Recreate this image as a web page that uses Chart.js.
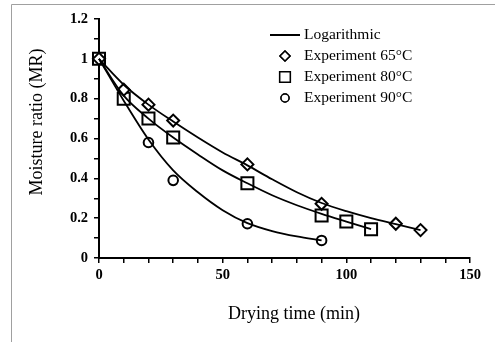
<!DOCTYPE html>
<html>
<head>
<meta charset="utf-8">
<script src="https://cdn.jsdelivr.net/npm/chart.js@4.4.1/dist/chart.umd.min.js"></script>
<style>
  html, body { margin: 0; padding: 0; background: #fff; }
  #wrap { width: 495px; height: 342px; position: relative; }
</style>
</head>
<body>
<div id="wrap"><canvas id="chart" width="495" height="342"></canvas></div>
<script>
// Measured points
const time65 = [0, 10, 20, 30, 60, 90, 120, 130];
const mr65 = [1, 0.845, 0.77, 0.69, 0.47, 0.272, 0.172, 0.14];
const time80 = [0, 10, 20, 30, 60, 90, 100, 110];
const mr80 = [1, 0.80, 0.70, 0.605, 0.375, 0.213, 0.183, 0.144];
const time90 = [0, 10, 20, 30, 60, 90];
const mr90 = [1, 0.80, 0.58, 0.39, 0.172, 0.088];

// Logarithmic model curves
const fitTime65 = [0, 10, 20, 30, 40, 50, 60, 70, 80, 90, 100, 110, 120, 130];
const fitMr65 = [1, 0.87, 0.77, 0.685, 0.605, 0.53, 0.465, 0.395, 0.33, 0.276, 0.235, 0.2, 0.17, 0.14];
const fitTime80 = [0, 10, 20, 30, 40, 50, 60, 70, 80, 90, 100, 110];
const fitMr80 = [1, 0.815, 0.7, 0.605, 0.52, 0.44, 0.375, 0.315, 0.265, 0.222, 0.183, 0.145];
const fitTime90 = [0, 10, 20, 30, 40, 50, 60, 70, 80, 90];
const fitMr90 = [1, 0.79, 0.595, 0.44, 0.33, 0.24, 0.175, 0.135, 0.108, 0.088];

const legendLabels = ['Logarithmic', 'Experiment 65°C', 'Experiment 80°C', 'Experiment 90°C'];
const xTitle = 'Drying time (min)';
const yTitle = 'Moisture ratio (MR)';

const pts = (xs, ys) => xs.map((x, i) => ({ x, y: ys[i] }));

function fitSet(xs, ys) {
  return {
    data: pts(xs, ys),
    showLine: true,
    borderColor: '#000',
    borderWidth: 1.8,
    pointRadius: 0,
    tension: 0.4,
    cubicInterpolationMode: 'monotone',
    fill: false,
    clip: false
  };
}

function markSet(xs, ys, style, r) {
  return {
    data: pts(xs, ys),
    showLine: false,
    pointStyle: style,
    pointRadius: r,
    pointBackgroundColor: '#fff',
    pointBorderColor: '#000',
    pointBorderWidth: 2,
    clip: false
  };
}

// Background, frame, axis titles and legend
const decor = {
  id: 'decor',
  beforeDraw(chart) {
    const ctx = chart.ctx;
    ctx.save();
    ctx.fillStyle = '#fff';
    ctx.fillRect(0, 0, chart.width, chart.height);
    ctx.strokeStyle = '#a0a0a0';
    ctx.lineWidth = 1;
    ctx.beginPath();
    ctx.moveTo(11.5, chart.height);
    ctx.lineTo(11.5, 4.5);
    ctx.lineTo(chart.width, 4.5);
    ctx.stroke();
    ctx.restore();
  },
  afterDraw(chart) {
    const ctx = chart.ctx;
    ctx.save();
    ctx.fillStyle = '#000';
    ctx.font = '18px "Liberation Serif"';
    ctx.textAlign = 'center';
    ctx.textBaseline = 'middle';
    ctx.fillText(xTitle, 294, 314);
    ctx.translate(37, 122);
    ctx.rotate(-Math.PI / 2);
    ctx.fillText(yTitle, 0, 0);
    ctx.restore();

    // legend
    ctx.save();
    ctx.font = '15.5px "Liberation Serif"';
    ctx.textAlign = 'left';
    ctx.textBaseline = 'middle';
    ctx.fillStyle = '#000';
    const rows = [35, 56, 77, 98];
    ctx.strokeStyle = '#000';
    ctx.lineWidth = 2;
    ctx.beginPath();
    ctx.moveTo(270, rows[0]);
    ctx.lineTo(300, rows[0]);
    ctx.stroke();
    const styles = [null, ['rectRot', 5], ['rect', 7.5], ['circle', 4]];
    for (let i = 0; i < legendLabels.length; i++) {
      if (styles[i]) {
        ctx.lineWidth = 1.5;
        ctx.fillStyle = '#fff';
        Chart.helpers.drawPoint(ctx, { pointStyle: styles[i][0], radius: styles[i][1], rotation: 0, borderWidth: 1.5 }, 285, rows[i]);
        ctx.fill();
        ctx.stroke();
      }
      ctx.fillStyle = '#000';
      ctx.fillText(legendLabels[i], 304, rows[i]);
    }
    ctx.restore();
  }
};

const tickFont = { family: '"Liberation Serif"', size: 14.5, weight: 'bold' };

new Chart(document.getElementById('chart'), {
  type: 'scatter',
  data: {
    datasets: [
      fitSet(fitTime65, fitMr65),
      fitSet(fitTime80, fitMr80),
      fitSet(fitTime90, fitMr90),
      markSet(time65, mr65, 'rectRot', 6),
      markSet(time80, mr80, 'rect', 8.5),
      markSet(time90, mr90, 'circle', 4.8)
    ]
  },
  options: {
    responsive: false,
    animation: false,
    layout: { padding: { left: 0, top: 19, right: 25, bottom: 0 } },
    plugins: { legend: { display: false }, tooltip: { enabled: false } },
    scales: {
      x: {
        type: 'linear',
        min: 0,
        max: 150,
        afterFit: (s) => { s.height = 84; },
        border: { display: true, color: '#000', width: 2 },
        grid: { drawOnChartArea: false, drawTicks: true, tickLength: 5, color: '#000', lineWidth: 1.5 },
        ticks: {
          stepSize: 10,
          autoSkip: false,
          maxRotation: 0,
          color: '#000',
          font: tickFont,
          padding: 4,
          callback: (v) => (v % 50 === 0 ? String(v) : '')
        }
      },
      y: {
        type: 'linear',
        min: 0,
        max: 1.2,
        afterFit: (s) => { s.width = 99; },
        border: { display: true, color: '#000', width: 2 },
        grid: { drawOnChartArea: false, drawTicks: true, tickLength: 5, color: '#000', lineWidth: 1.5 },
        ticks: {
          stepSize: 0.1,
          autoSkip: false,
          color: '#000',
          font: tickFont,
          padding: 6,
          callback: (v) => {
            const k = Math.round(v * 10);
            return k % 2 === 0 ? String(Math.round(v * 10) / 10) : '';
          }
        }
      }
    }
  },
  plugins: [decor]
});
</script>
</body>
</html>
